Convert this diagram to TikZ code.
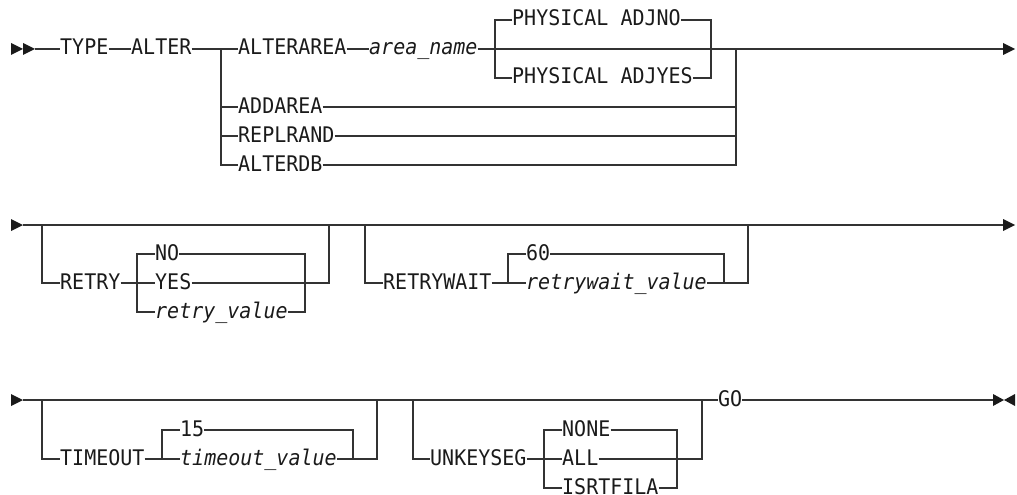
\documentclass[tikz,border=0pt]{standalone}
\usepackage{fontspec}
\setmainfont[FakeStretch=0.93]{DejaVu Sans Mono}
\usepackage{xcolor}
\usepackage{tikz}
\usetikzlibrary{arrows.meta}
\definecolor{railink}{HTML}{1A1A1A}
\definecolor{railgray}{HTML}{333333}
\tikzset{
  kwnode/.style={anchor=west,inner sep=0pt,text height=13pt,text depth=1pt,font=\fontsize{21.5}{23}\selectfont,text=railink},
  varnode/.style={kwnode,font=\fontsize{21.5}{23}\selectfont\itshape},
  railline/.style={draw=railgray,line width=1.3pt},
  railmark/.style={fill=railink},
}

\begin{document}
\begin{tikzpicture}[x=1pt,y=-1pt]
        \useasboundingbox (0,0) rectangle (1017,495);
        % row 1
        \node[kwnode] (type) at (60,49) {TYPE};
        \node[kwnode] (alter) at (131,49) {ALTER};
        \node[kwnode] (alterarea) at (238,49) {ALTERAREA};
        \node[varnode] (areaname) at (369,49) {area\_name};
        \node[kwnode] (adjno) at (512,20) {PHYSICAL ADJNO};
        \node[kwnode] (adjyes) at (512,78) {PHYSICAL ADJYES};
        \node[kwnode] (addarea) at (238,107) {ADDAREA};
        \node[kwnode] (replrand) at (238,136) {REPLRAND};
        \node[kwnode] (alterdb) at (238,165) {ALTERDB};
        \coordinate (r1start) at (35,49); \coordinate (altL) at (221,49);
        \coordinate (physL) at (495,49); \coordinate (physR) at (711,49);
        \coordinate (altR) at (736,49); \coordinate (r1end) at (1003,49);
        \fill[railmark] (11,43) -- (11,55) -- (23,49) -- cycle (23,43) -- (23,55) -- (r1start) -- cycle;
        \draw[railline] (r1start) -- (type); \draw[railline] (type) -- (alter); \draw[railline] (alter) -- (altL) -- (alterarea);
        \draw[railline] (altL) |- (addarea); \draw[railline] (altL) |- (replrand); \draw[railline] (altL) |- (alterdb);
        \draw[railline] (alterarea) -- (areaname); \draw[railline] (areaname) -- (physL) -- (physR) -- (altR) -- (r1end);
        \draw[railline] (physL) |- (adjno); \draw[railline] (physL) |- (adjyes);
        \draw[railline] (adjno) -| (physR); \draw[railline] (adjyes) -| (physR);
        \draw[railline] (addarea) -| (altR); \draw[railline] (replrand) -| (altR); \draw[railline] (alterdb) -| (altR);
        \fill[railmark] (r1end) ++(0,-6) -- ++(0,12) -- (1015,49) -- cycle;
        % row 2
        \node[kwnode] (retry) at (60,283) {RETRY};
        \node[kwnode] (no) at (155,254) {NO};
        \node[kwnode] (yes) at (155,283) {YES};
        \node[varnode] (retryval) at (155,312) {retry\_value};
        \node[kwnode] (retrywait) at (383,283) {RETRYWAIT};
        \node[kwnode] (sixty) at (526,254) {60};
        \node[varnode] (rwval) at (526,283) {retrywait\_value};
        \coordinate (r2start) at (23,225); \coordinate (retryL) at (42,225); \coordinate (retryR) at (329,225);
        \coordinate (rwL) at (365,225); \coordinate (rwR) at (748,225); \coordinate (r2end) at (1003,225);
        \coordinate (rtyL) at (137,283); \coordinate (rtyR) at (305,283);
        \coordinate (rwcL) at (508,283); \coordinate (rwcR) at (724,283);
        \fill[railmark] (11,219) -- (11,231) -- (r2start) -- cycle;
        \draw[railline] (r2start) -- (retryL) -- (retryR) -- (rwL) -- (rwR) -- (r2end);
        \draw[railline] (retryL) |- (retry); \draw[railline] (retry) -- (rtyL) -- (yes);
        \draw[railline] (rtyL) |- (no); \draw[railline] (rtyL) |- (retryval);
        \draw[railline] (no) -| (rtyR); \draw[railline] (retryval) -| (rtyR); \draw[railline] (yes) -| (retryR);
        \draw[railline] (rwL) |- (retrywait); \draw[railline] (retrywait) -- (rwcL) -- (rwval);
        \draw[railline] (rwcL) |- (sixty); \draw[railline] (sixty) -| (rwcR); \draw[railline] (rwval) -| (rwR);
        \fill[railmark] (r2end) ++(0,-6) -- ++(0,12) -- (1015,225) -- cycle;
        % row 3
        \node[kwnode] (timeout) at (60,459) {TIMEOUT};
        \node[kwnode] (fifteen) at (180,430) {15};
        \node[varnode] (toval) at (180,459) {timeout\_value};
        \node[kwnode] (unkeyseg) at (430,459) {UNKEYSEG};
        \node[kwnode] (none) at (562,430) {NONE};
        \node[kwnode] (all) at (562,459) {ALL};
        \node[kwnode] (isrtfila) at (562,488) {ISRTFILA};
        \node[kwnode] (go) at (718,400) {GO};
        \coordinate (r3start) at (23,400); \coordinate (toL) at (42,400); \coordinate (toR) at (377,400);
        \coordinate (ukL) at (413,400); \coordinate (ukR) at (702,400); \coordinate (r3end) at (993,400);
        \coordinate (tocL) at (162,459); \coordinate (tocR) at (353,459);
        \coordinate (ukcL) at (544,459); \coordinate (ukcR) at (677,459);
        \fill[railmark] (11,394) -- (11,406) -- (r3start) -- cycle;
        \draw[railline] (r3start) -- (toL) -- (toR) -- (ukL) -- (ukR) -- (go); \draw[railline] (go) -- (r3end);
        \draw[railline] (toL) |- (timeout); \draw[railline] (timeout) -- (tocL) -- (toval);
        \draw[railline] (tocL) |- (fifteen); \draw[railline] (fifteen) -| (tocR); \draw[railline] (toval) -| (toR);
        \draw[railline] (ukL) |- (unkeyseg); \draw[railline] (unkeyseg) -- (ukcL) -- (all);
        \draw[railline] (ukcL) |- (none); \draw[railline] (ukcL) |- (isrtfila);
        \draw[railline] (none) -| (ukcR); \draw[railline] (isrtfila) -| (ukcR); \draw[railline] (all) -| (ukR);
        \fill[railmark] (r3end) ++(0,-6) -- ++(0,12) -- (1004,400) -- cycle (1015,394) -- (1015,406) -- (1004,400) -- cycle;
      \end{tikzpicture}
\end{document}
